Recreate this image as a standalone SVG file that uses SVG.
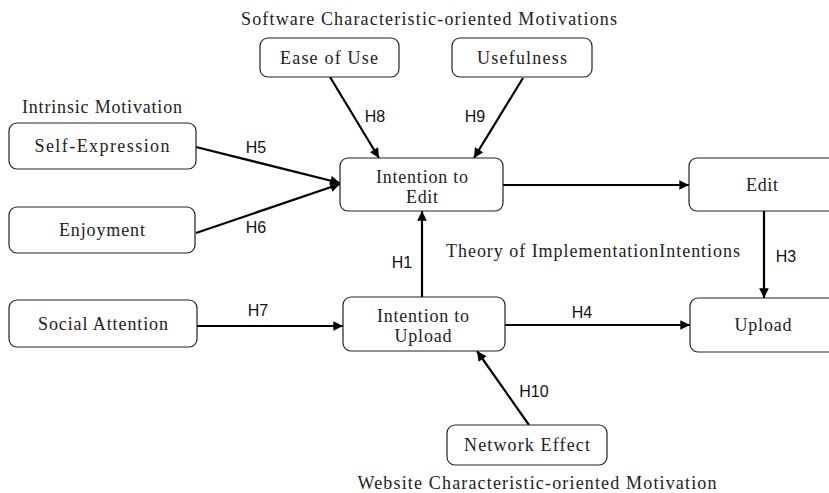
<svg xmlns="http://www.w3.org/2000/svg" width="829" height="493" viewBox="0 0 829 493">
<style>
.box{fill:#fff;stroke:#222;stroke-width:1.2}
.t{font-family:"Liberation Serif","Noto Serif",serif;font-size:18px;fill:#222;text-anchor:middle}
.h{font-family:"Liberation Sans",Arial,sans-serif;font-size:16px;fill:#111;text-anchor:middle}
.c{stroke:#000;stroke-width:2.2;fill:none;marker-end:url(#ah)}
</style>
<defs>
<marker id="ah" viewBox="0 0 10 10" refX="10" refY="5" markerWidth="5" markerHeight="4.4" markerUnits="strokeWidth" orient="auto">
<path d="M0,0 L10,5 L0,10 z" fill="#000"/>
</marker>
</defs>
<rect width="829" height="493" fill="#fff"/>
<g id="titles">
<text class="t" x="429" y="25" textLength="376">Software Characteristic-oriented Motivations</text>
<text class="t" x="102" y="113" textLength="160">Intrinsic Motivation</text>
<text class="t" x="593" y="257" textLength="294">Theory of ImplementationIntentions</text>
<text class="t" x="537" y="489" textLength="359">Website Characteristic-oriented Motivation</text>
</g>
<g id="connectors">
<line class="c" x1="330" y1="77" x2="379" y2="158"/>
<line class="c" x1="523" y1="78" x2="474" y2="158"/>
<line class="c" x1="196" y1="147" x2="340" y2="183"/>
<line class="c" x1="196" y1="233" x2="340" y2="184"/>
<line class="c" x1="503" y1="185" x2="689" y2="185"/>
<line class="c" x1="764" y1="211" x2="764" y2="298"/>
<line class="c" x1="422" y1="297" x2="422" y2="211"/>
<line class="c" x1="197" y1="326" x2="343" y2="326"/>
<line class="c" x1="505" y1="325" x2="690" y2="325"/>
<line class="c" x1="529" y1="425" x2="477" y2="351"/>
</g>
<g id="labels">
<text class="h" x="375" y="122">H8</text>
<text class="h" x="475" y="122">H9</text>
<text class="h" x="256" y="153">H5</text>
<text class="h" x="256" y="233">H6</text>
<text class="h" x="402" y="268">H1</text>
<text class="h" x="258" y="316">H7</text>
<text class="h" x="582" y="318">H4</text>
<text class="h" x="786" y="262">H3</text>
<text class="h" x="534" y="397">H10</text>
</g>
<g id="ease"><rect class="box" x="260" y="38" width="139" height="39" rx="8"/><text class="t" x="329" y="64" textLength="98">Ease of Use</text></g>
<g id="usefulness"><rect class="box" x="452" y="38" width="140" height="39" rx="8"/><text class="t" x="522" y="64" textLength="90">Usefulness</text></g>
<g id="selfexpression"><rect class="box" x="9" y="123" width="187" height="46" rx="8"/><text class="t" x="102" y="152" textLength="135">Self-Expression</text></g>
<g id="enjoyment"><rect class="box" x="9" y="207" width="186" height="46" rx="8"/><text class="t" x="102" y="236" textLength="86">Enjoyment</text></g>
<g id="intentionedit"><rect class="box" x="340" y="158" width="163" height="53" rx="8"/><text class="t" x="422" y="183" textLength="92">Intention to</text><text class="t" x="422" y="203" textLength="32">Edit</text></g>
<g id="edit"><rect class="box" x="689" y="158" width="150" height="53" rx="8"/><text class="t" x="762" y="191" textLength="32">Edit</text></g>
<g id="socialattention"><rect class="box" x="9" y="300" width="188" height="47" rx="8"/><text class="t" x="103" y="330" textLength="130">Social Attention</text></g>
<g id="intentionupload"><rect class="box" x="343" y="297" width="162" height="54" rx="8"/><text class="t" x="423" y="322" textLength="92">Intention to</text><text class="t" x="423" y="342" textLength="57">Upload</text></g>
<g id="upload"><rect class="box" x="690" y="298" width="150" height="54" rx="8"/><text class="t" x="763" y="331" textLength="57">Upload</text></g>
<g id="networkeffect"><rect class="box" x="447" y="425" width="160" height="40" rx="8"/><text class="t" x="527" y="451" textLength="126">Network Effect</text></g>
</svg>
